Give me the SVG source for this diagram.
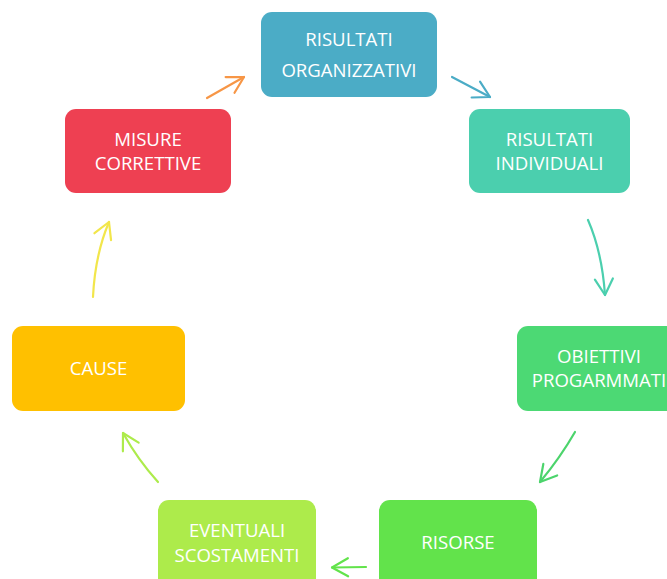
<svg xmlns="http://www.w3.org/2000/svg" width="667" height="579" viewBox="0 0 667 579">
<style>
.box{stroke:none}
.lbl{font-family:"Open Sans","Noto Sans",sans-serif;font-size:18.6px;fill:#ffffff;text-anchor:middle}
.arr{fill:none;stroke-width:2.2;stroke-linecap:round}
.hd{fill:none;stroke-width:2.2;stroke-linecap:round;stroke-linejoin:round}
</style>
<defs>
<marker id="mOr" markerUnits="userSpaceOnUse" markerWidth="30" markerHeight="30" refX="0" refY="0" viewBox="-20 -15 30 30" orient="auto" overflow="visible"><path class="hd" d="M-16,-9 L0,0 L-16,9" stroke="#F79646"/></marker>
<marker id="mBl" markerUnits="userSpaceOnUse" markerWidth="30" markerHeight="30" refX="0" refY="0" viewBox="-20 -15 30 30" orient="auto" overflow="visible"><path class="hd" d="M-16,-9 L0,0 L-16,9" stroke="#4BACC6"/></marker>
<marker id="mTe" markerUnits="userSpaceOnUse" markerWidth="30" markerHeight="30" refX="0" refY="0" viewBox="-20 -15 30 30" orient="auto" overflow="visible"><path class="hd" d="M-16,-9 L0,0 L-16,9" stroke="#4BCFAE"/></marker>
<marker id="mGr" markerUnits="userSpaceOnUse" markerWidth="30" markerHeight="30" refX="0" refY="0" viewBox="-20 -15 30 30" orient="auto" overflow="visible"><path class="hd" d="M-16,-9 L0,0 L-16,9" stroke="#4CD46C"/></marker>
<marker id="mLg" markerUnits="userSpaceOnUse" markerWidth="30" markerHeight="30" refX="0" refY="0" viewBox="-20 -15 30 30" orient="auto" overflow="visible"><path class="hd" d="M-16,-9 L0,0 L-16,9" stroke="#62E34B"/></marker>
<marker id="mYg" markerUnits="userSpaceOnUse" markerWidth="30" markerHeight="30" refX="0" refY="0" viewBox="-20 -15 30 30" orient="auto" overflow="visible"><path class="hd" d="M-16,-9 L0,0 L-16,9" stroke="#ADEB4B"/></marker>
<marker id="mYe" markerUnits="userSpaceOnUse" markerWidth="30" markerHeight="30" refX="0" refY="0" viewBox="-20 -15 30 30" orient="auto" overflow="visible"><path class="hd" d="M-16,-9 L0,0 L-16,9" stroke="#F2E64B"/></marker>
</defs>
<rect width="667" height="579" fill="#ffffff"/>
<g id="n1"><rect class="box" x="261" y="12" width="176" height="85" rx="11" fill="#4BACC6"/><text class="lbl" x="349" y="46">RISULTATI</text><text class="lbl" x="349" y="77">ORGANIZZATIVI</text></g>
<g id="n2"><rect class="box" x="469" y="109" width="161" height="84" rx="11" fill="#4BCFAE"/><text class="lbl" x="549.5" y="146">RISULTATI</text><text class="lbl" x="549.5" y="170">INDIVIDUALI</text></g>
<g id="n3"><rect class="box" x="517" y="326" width="162" height="85" rx="11" fill="#4CD974"/><text class="lbl" x="599" y="363">OBIETTIVI</text><text class="lbl" x="599" y="387">PROGARMMATI</text></g>
<g id="n4"><rect class="box" x="379" y="500" width="158" height="90" rx="11" fill="#62E34B"/><text class="lbl" x="458" y="549">RISORSE</text></g>
<g id="n5"><rect class="box" x="158" y="500" width="158" height="90" rx="11" fill="#ADEB4B"/><text class="lbl" x="237" y="537">EVENTUALI</text><text class="lbl" x="237" y="562">SCOSTAMENTI</text></g>
<g id="n6"><rect class="box" x="12" y="326" width="173" height="85" rx="11" fill="#FFC000"/><text class="lbl" x="98.5" y="375">CAUSE</text></g>
<g id="n7"><rect class="box" x="65" y="109" width="166" height="84" rx="11" fill="#EE4052"/><text class="lbl" x="148" y="146">MISURE</text><text class="lbl" x="148" y="170">CORRETTIVE</text></g>
<g id="connectors">
<path class="arr" stroke="#F79646" d="M207,98 L244,77" marker-end="url(#mOr)"/>
<path class="arr" stroke="#4BACC6" d="M452,77 L490,97" marker-end="url(#mBl)"/>
<path class="arr" stroke="#4BCFAE" d="M588,220 Q602,252 605,295" marker-end="url(#mTe)"/>
<path class="arr" stroke="#4CD46C" d="M575,432 Q560,458 540,482" marker-end="url(#mGr)"/>
<path class="arr" stroke="#62E34B" d="M366,567 L332,567.5" marker-end="url(#mLg)"/>
<path class="arr" stroke="#ADEB4B" d="M158,482 Q138,460 123,433" marker-end="url(#mYg)"/>
<path class="arr" stroke="#F2E64B" d="M93,297 Q95,255 109,222" marker-end="url(#mYe)"/>
</g>
</svg>
